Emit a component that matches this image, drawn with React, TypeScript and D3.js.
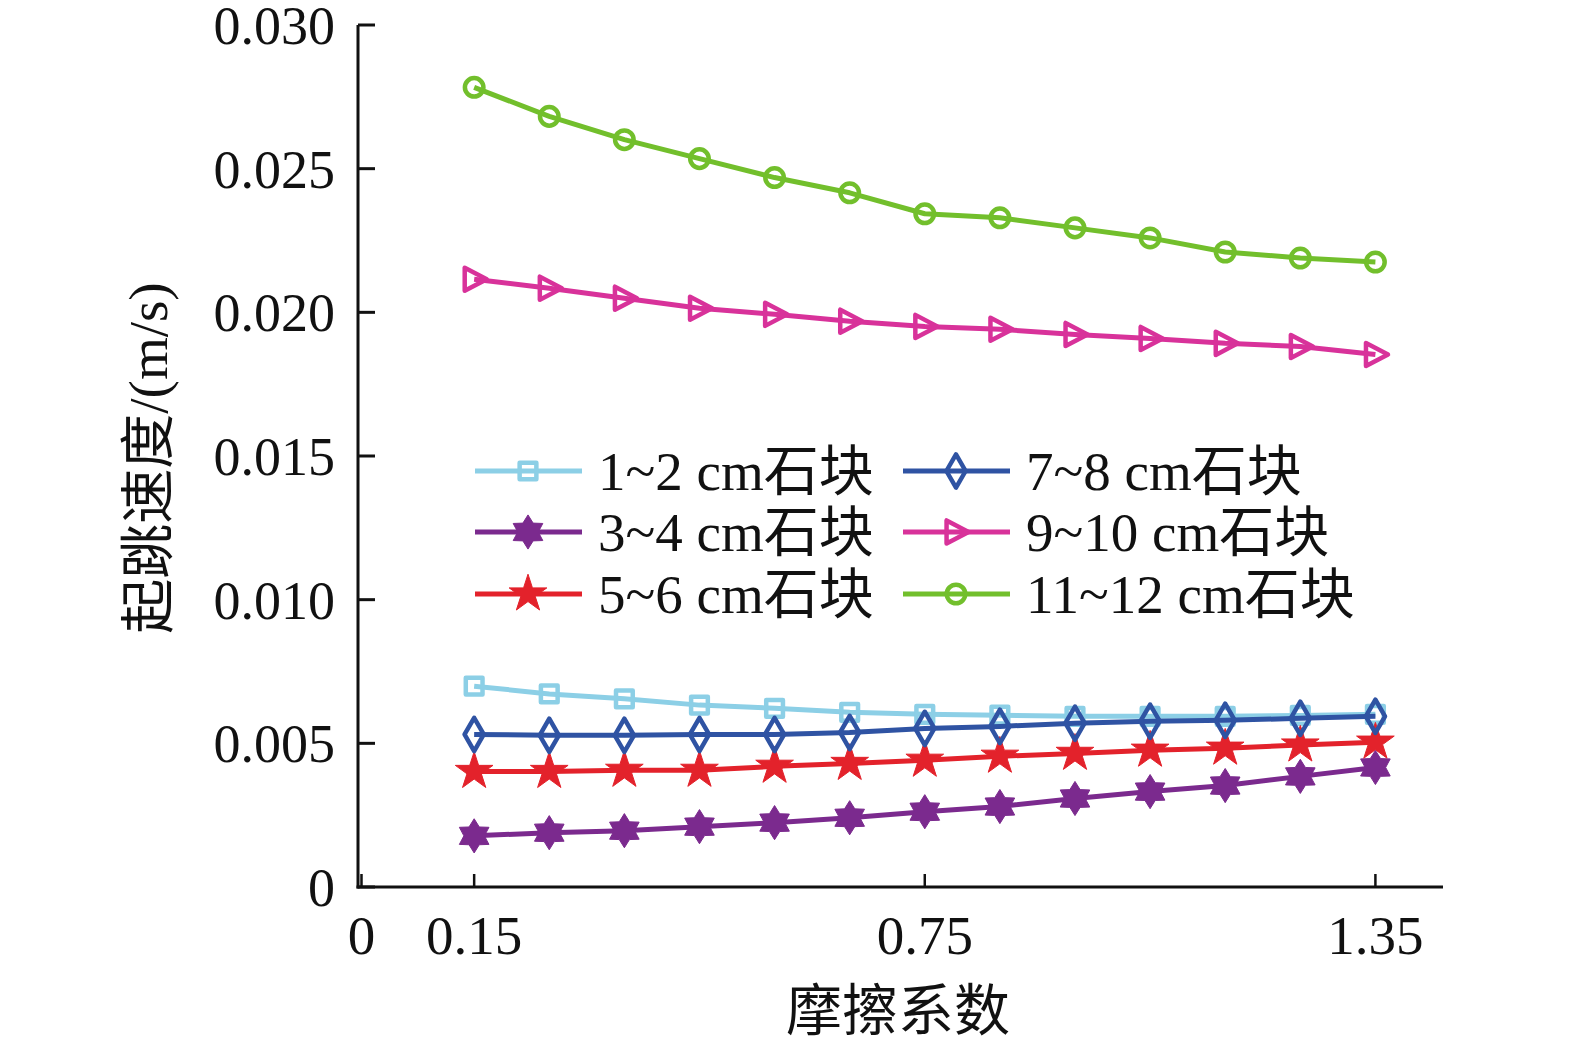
import { useEffect, useRef } from "react";
import * as d3 from "d3";

const W = 1575;
const H = 1044;

// 摩擦系数 (x)
const FRICTION = [0.15, 0.25, 0.35, 0.45, 0.55, 0.65, 0.75, 0.85, 0.95, 1.05, 1.15, 1.25, 1.35];

// 起跳速度 (m/s)
const S_1_2 = [0.00699, 0.00672, 0.00655, 0.00633, 0.00622, 0.00608, 0.00601, 0.00598, 0.00594, 0.00594, 0.00594, 0.00597, 0.00601];
const S_3_4 = [0.00178, 0.00189, 0.00196, 0.0021, 0.00224, 0.00241, 0.00262, 0.0028, 0.00308, 0.00332, 0.00353, 0.00385, 0.00416];
const S_5_6 = [0.00402, 0.00402, 0.00406, 0.00406, 0.0042, 0.0043, 0.00441, 0.00455, 0.00465, 0.00476, 0.00483, 0.00494, 0.00504];
const S_7_8 = [0.00531, 0.00528, 0.00528, 0.00531, 0.00531, 0.00538, 0.00552, 0.00559, 0.0057, 0.00577, 0.0058, 0.00587, 0.00594];
const S_9_10 = [0.02115, 0.02084, 0.02049, 0.02014, 0.01993, 0.01969, 0.01951, 0.01941, 0.01923, 0.01909, 0.01892, 0.01881, 0.01853];
const S_11_12 = [0.02783, 0.02682, 0.02601, 0.02535, 0.02469, 0.02416, 0.02343, 0.02329, 0.02294, 0.02259, 0.0221, 0.02189, 0.02175];

const SERIES_NAMES = ["1~2 cm石块", "3~4 cm石块", "5~6 cm石块", "7~8 cm石块", "9~10 cm石块", "11~12 cm石块"];
const SERIES_VALUES = [S_1_2, S_3_4, S_5_6, S_7_8, S_9_10, S_11_12];

const X_TICKS = [0, 0.15, 0.75, 1.35];
const Y_TICKS = [0, 0.005, 0.01, 0.015, 0.02, 0.025, 0.03];

const COLORS = ["#8ccfe6", "#7b2a8e", "#e3222b", "#2f53a3", "#d8329a", "#72bf2c"];

const FONT = "'Liberation Serif', 'Times New Roman', 'Noto Sans CJK SC', serif";

// 六角星
const star6: d3.SymbolType = {
  draw(ctx, size) {
    const r = Math.sqrt(size) * 0.62;
    const ri = r * 0.6;
    for (let i = 0; i < 12; i++) {
      const a = (i * Math.PI) / 6 - Math.PI / 2;
      const rr = i % 2 === 0 ? r : ri;
      if (i === 0) ctx.moveTo(Math.cos(a) * rr, Math.sin(a) * rr);
      else ctx.lineTo(Math.cos(a) * rr, Math.sin(a) * rr);
    }
    ctx.closePath();
  },
};

// 右向三角
const triRight: d3.SymbolType = {
  draw(ctx, size) {
    const s = Math.sqrt(size);
    ctx.moveTo(s * 0.6, 0);
    ctx.lineTo(-s * 0.45, -s * 0.55);
    ctx.lineTo(-s * 0.45, s * 0.55);
    ctx.closePath();
  },
};

type MarkerStyle = { type: d3.SymbolType; size: number; filled: boolean };

const MARKERS: MarkerStyle[] = [
  { type: d3.symbolSquare, size: 280, filled: false },
  { type: star6, size: 760, filled: true },
  { type: d3.symbolStar, size: 440, filled: true },
  { type: d3.symbolDiamond, size: 320, filled: false },
  { type: triRight, size: 440, filled: false },
  { type: d3.symbolCircle, size: 270, filled: false },
];

export default function App() {
  const svgRef = useRef<SVGSVGElement>(null);

  useEffect(() => {
    if (!svgRef.current) return;
    const svg = d3.select(svgRef.current);
    svg.selectAll("*").remove();

    const x = d3.scaleLinear().domain([0, 1.44]).range([361.5, 1443]);
    const y = d3.scaleLinear().domain([0, 0.03]).range([887, 25]);

    svg.append("rect").attr("width", W).attr("height", H).attr("fill", "#fff");

    const drawMarker = (g: d3.Selection<SVGGElement, unknown, null, undefined>, i: number, cx: number, cy: number) => {
      const m = MARKERS[i];
      g.append("path")
        .attr("d", d3.symbol().type(m.type).size(m.size)() as string)
        .attr("transform", `translate(${cx},${cy})`)
        .attr("fill", m.filled ? COLORS[i] : "none")
        .attr("stroke", COLORS[i])
        .attr("stroke-width", m.filled ? 1 : 4.5)
        .attr("stroke-linejoin", "round");
    };

    // 曲线
    const line = d3
      .line<number>()
      .x((_, k) => x(FRICTION[k]))
      .y((d) => y(d));

    const plot = svg.append("g");
    SERIES_VALUES.forEach((vals, i) => {
      const g = plot.append("g");
      g.append("path")
        .attr("d", line(vals) as string)
        .attr("fill", "none")
        .attr("stroke", COLORS[i])
        .attr("stroke-width", 5)
        .attr("stroke-linejoin", "round");
      vals.forEach((v, k) => drawMarker(g, i, x(FRICTION[k]), y(v)));
    });

    // 坐标轴
    const axisX = 358;
    const axes = svg.append("g").attr("stroke", "#111").attr("fill", "none");
    axes.append("line").attr("x1", axisX).attr("x2", axisX).attr("y1", y(0.03)).attr("y2", y(0) + 1.5).attr("stroke-width", 3);
    axes.append("line").attr("x1", axisX - 1.5).attr("x2", x(1.44)).attr("y1", y(0)).attr("y2", y(0)).attr("stroke-width", 3);

    Y_TICKS.forEach((t) => {
      axes.append("line").attr("x1", axisX).attr("x2", axisX + 17).attr("y1", y(t)).attr("y2", y(t)).attr("stroke-width", 3);
      svg
        .append("text")
        .attr("x", 335)
        .attr("y", y(t))
        .attr("dy", "0.35em")
        .attr("text-anchor", "end")
        .attr("font-family", FONT)
        .attr("font-size", 54)
        .attr("fill", "#111")
        .text(t === 0 ? "0" : d3.format(".3f")(t));
    });

    X_TICKS.forEach((t) => {
      axes.append("line").attr("x1", x(t)).attr("x2", x(t)).attr("y1", y(0)).attr("y2", y(0) - 13).attr("stroke-width", 2.5);
      svg
        .append("text")
        .attr("x", x(t))
        .attr("y", 954)
        .attr("text-anchor", "middle")
        .attr("font-family", FONT)
        .attr("font-size", 55)
        .attr("fill", "#111")
        .text(t === 0 ? "0" : d3.format(".2f")(t));
    });

    // 轴标题
    svg
      .append("text")
      .attr("x", 898)
      .attr("y", 1030)
      .attr("text-anchor", "middle")
      .attr("font-family", FONT)
      .attr("font-size", 56)
      .attr("fill", "#111")
      .text("摩擦系数");

    svg
      .append("text")
      .attr("transform", `translate(167,458) rotate(-90)`)
      .attr("text-anchor", "middle")
      .attr("font-family", FONT)
      .attr("font-size", 55)
      .attr("fill", "#111")
      .text("起跳速度/(m/s)");

    // 图例
    const legend = svg.append("g");
    const colX = [475, 903];
    const rowY = [471, 532, 594];
    SERIES_NAMES.forEach((name, i) => {
      const col = Math.floor(i / 3);
      const row = i % 3;
      const lx = colX[col];
      const ly = rowY[row];
      const g = legend.append("g");
      g.append("line")
        .attr("x1", lx)
        .attr("x2", lx + 107)
        .attr("y1", ly)
        .attr("y2", ly)
        .attr("stroke", COLORS[i])
        .attr("stroke-width", 5);
      drawMarker(g, i, lx + 53, ly);
      g.append("text")
        .attr("x", lx + 123)
        .attr("y", ly)
        .attr("dy", "0.35em")
        .attr("font-family", FONT)
        .attr("font-size", 55)
        .attr("fill", "#111")
        .text(name);
    });
  }, []);

  return (
    <svg
      ref={svgRef}
      width={W}
      height={H}
      viewBox={`0 0 ${W} ${H}`}
      style={{ position: "absolute", left: 0, top: 0, display: "block" }}
    />
  );
}
